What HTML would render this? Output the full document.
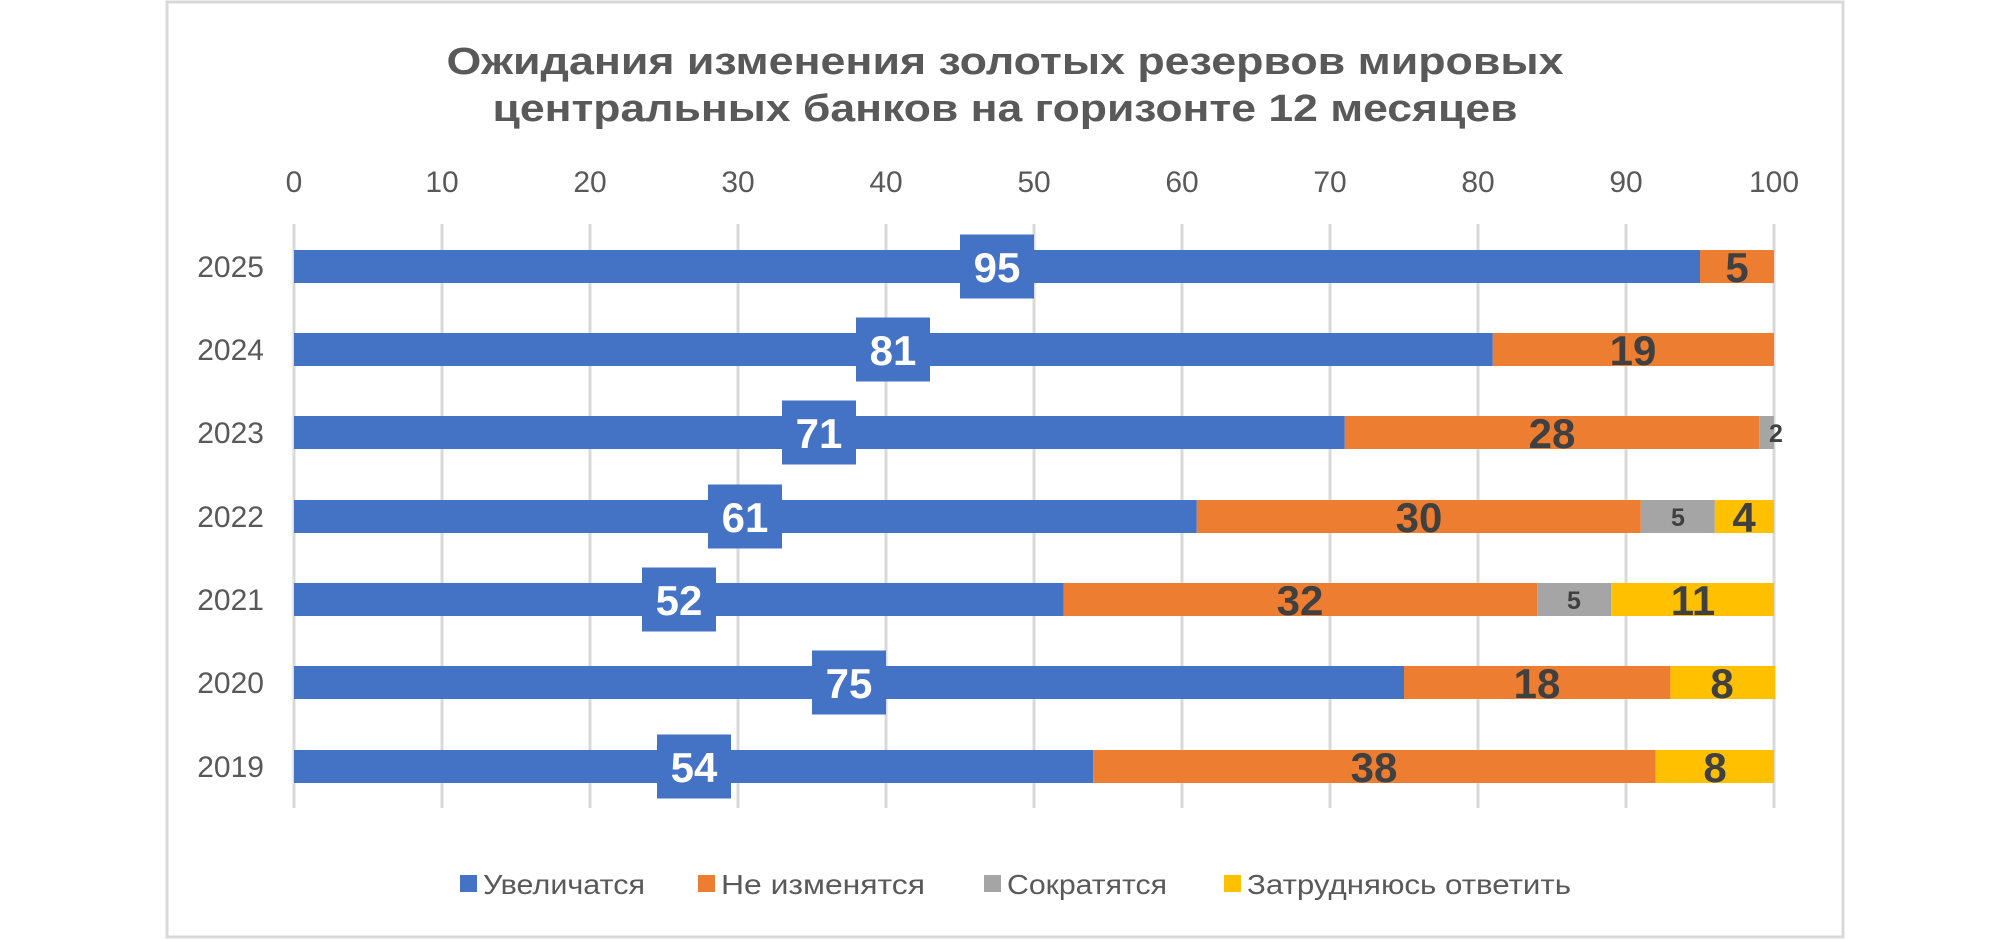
<!DOCTYPE html>
<html><head><meta charset="utf-8"><style>
html,body{margin:0;padding:0;background:#fff;}
svg{display:block;}
text{font-family:"Liberation Sans",sans-serif;}
</style></head><body>
<svg width="2000" height="940" viewBox="0 0 2000 940" xmlns="http://www.w3.org/2000/svg">
<rect x="0" y="0" width="2000" height="940" fill="#fff"/>
<rect x="167" y="2" width="1676" height="935" fill="#fff" stroke="#d9d9d9" stroke-width="3"/>
<g font-weight="bold" font-size="38" fill="#595959" text-anchor="middle">
<text x="1005" y="74" textLength="1117" lengthAdjust="spacingAndGlyphs">Ожидания изменения золотых резервов мировых</text>
<text x="1005" y="121" textLength="1025" lengthAdjust="spacingAndGlyphs">центральных банков на горизонте 12 месяцев</text>
</g>
<g stroke="#d9d9d9" stroke-width="3">
<line x1="294" y1="224" x2="294" y2="808"/><line x1="442" y1="224" x2="442" y2="808"/><line x1="590" y1="224" x2="590" y2="808"/><line x1="738" y1="224" x2="738" y2="808"/><line x1="886" y1="224" x2="886" y2="808"/><line x1="1034" y1="224" x2="1034" y2="808"/><line x1="1182" y1="224" x2="1182" y2="808"/><line x1="1330" y1="224" x2="1330" y2="808"/><line x1="1478" y1="224" x2="1478" y2="808"/><line x1="1626" y1="224" x2="1626" y2="808"/><line x1="1774" y1="224" x2="1774" y2="808"/>
</g>
<g font-size="30" fill="#595959" text-anchor="middle">
<text x="294" y="192">0</text><text x="442" y="192">10</text><text x="590" y="192">20</text><text x="738" y="192">30</text><text x="886" y="192">40</text><text x="1034" y="192">50</text><text x="1182" y="192">60</text><text x="1330" y="192">70</text><text x="1478" y="192">80</text><text x="1626" y="192">90</text><text x="1774" y="192">100</text>
</g>
<g font-size="30" fill="#595959" text-anchor="end">
<text x="264" y="277">2025</text><text x="264" y="360">2024</text><text x="264" y="443">2023</text><text x="264" y="527">2022</text><text x="264" y="610">2021</text><text x="264" y="693">2020</text><text x="264" y="777">2019</text>
</g>
<g>
<rect x="294" y="250" width="1406" height="33" fill="#4472c4"/><rect x="1700" y="250" width="74" height="33" fill="#ed7d31"/>
<rect x="294" y="333" width="1198.8" height="33" fill="#4472c4"/><rect x="1492.8" y="333" width="281.2" height="33" fill="#ed7d31"/>
<rect x="294" y="416" width="1050.8" height="33" fill="#4472c4"/><rect x="1344.8" y="416" width="414.4" height="33" fill="#ed7d31"/><rect x="1759.2" y="416" width="14.8" height="33" fill="#a5a5a5"/>
<rect x="294" y="500" width="902.8" height="33" fill="#4472c4"/><rect x="1196.8" y="500" width="444" height="33" fill="#ed7d31"/><rect x="1640.8" y="500" width="74" height="33" fill="#a5a5a5"/><rect x="1714.8" y="500" width="59.2" height="33" fill="#ffc000"/>
<rect x="294" y="583" width="769.6" height="33" fill="#4472c4"/><rect x="1063.6" y="583" width="473.6" height="33" fill="#ed7d31"/><rect x="1537.2" y="583" width="74" height="33" fill="#a5a5a5"/><rect x="1611.2" y="583" width="162.8" height="33" fill="#ffc000"/>
<rect x="294" y="666" width="1110" height="33" fill="#4472c4"/><rect x="1404" y="666" width="266.4" height="33" fill="#ed7d31"/><rect x="1670.4" y="666" width="105" height="33" fill="#ffc000"/>
<rect x="294" y="750" width="799.2" height="33" fill="#4472c4"/><rect x="1093.2" y="750" width="562.4" height="33" fill="#ed7d31"/><rect x="1655.6" y="750" width="118.4" height="33" fill="#ffc000"/>
</g>
<g fill="#4472c4">
<rect x="960" y="234.5" width="74" height="64"/><rect x="856" y="317.5" width="74" height="64"/><rect x="782" y="400.5" width="74" height="64"/><rect x="708" y="484.5" width="74" height="64"/><rect x="642" y="567.5" width="74" height="64"/><rect x="812" y="650.5" width="74" height="64"/><rect x="657" y="734.5" width="74" height="64"/>
</g>
<g font-weight="bold" font-size="42" fill="#fff" text-anchor="middle">
<text x="997" y="282">95</text><text x="893" y="365">81</text><text x="819" y="448">71</text><text x="745" y="532">61</text><text x="679" y="615">52</text><text x="849" y="698">75</text><text x="694" y="782">54</text>
</g>
<g font-weight="bold" font-size="42" fill="#404040" text-anchor="middle">
<text x="1737" y="282">5</text><text x="1633" y="365">19</text><text x="1552" y="448">28</text><text x="1419" y="532">30</text><text x="1300" y="615">32</text><text x="1537" y="698">18</text><text x="1374" y="782">38</text>
<text x="1744" y="532">4</text><text x="1693" y="615">11</text><text x="1722" y="698">8</text><text x="1715" y="782">8</text>
</g>
<g font-weight="bold" font-size="25" fill="#404040" text-anchor="middle">
<text x="1776" y="442">2</text><text x="1678" y="526">5</text><text x="1574" y="609">5</text>
</g>
<g font-size="28" fill="#595959">
<rect x="460" y="875" width="17" height="17" fill="#4472c4"/><text x="483" y="894" textLength="162" lengthAdjust="spacingAndGlyphs">Увеличатся</text>
<rect x="698" y="875" width="17" height="17" fill="#ed7d31"/><text x="721" y="894" textLength="204" lengthAdjust="spacingAndGlyphs">Не изменятся</text>
<rect x="984" y="875" width="17" height="17" fill="#a5a5a5"/><text x="1007" y="894" textLength="160" lengthAdjust="spacingAndGlyphs">Сократятся</text>
<rect x="1224" y="875" width="17" height="17" fill="#ffc000"/><text x="1247" y="894" textLength="324" lengthAdjust="spacingAndGlyphs">Затрудняюсь ответить</text>
</g>
</svg>
</body></html>
